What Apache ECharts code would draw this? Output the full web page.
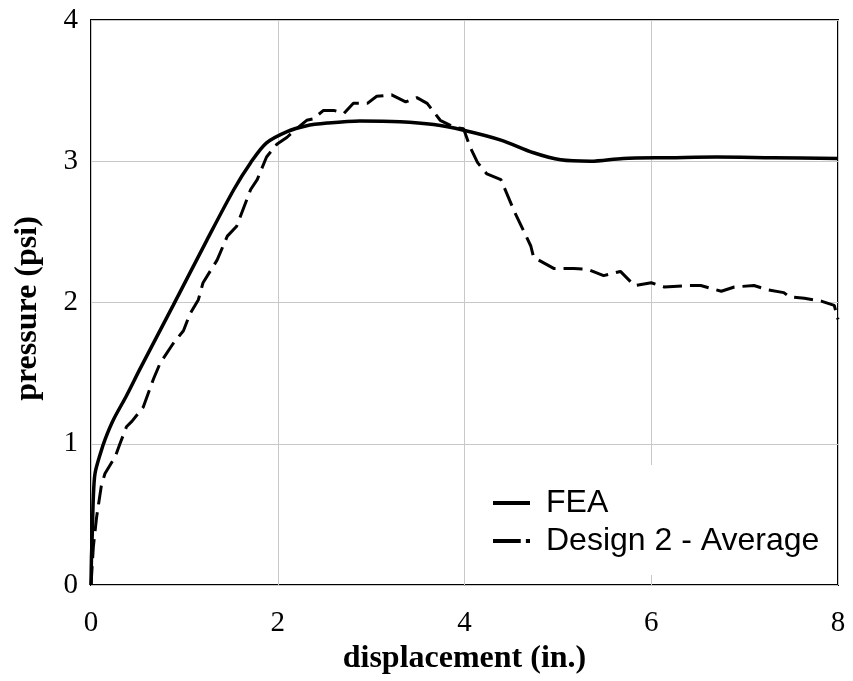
<!DOCTYPE html>
<html>
<head>
<meta charset="utf-8">
<script src="https://cdn.jsdelivr.net/npm/echarts@6/dist/echarts.min.js"></script>
<style>
  html, body { margin: 0; padding: 0; background: #fff; }
  #chart { width: 853px; height: 681px; }
</style>
</head>
<body>
<div id="chart"></div>
<script>
// FEA prediction: displacement (in.) vs pressure (psi)
const feaX = [0, 0.005, 0.014, 0.025, 0.043, 0.1, 0.15, 0.24, 0.38, 0.525, 0.88, 1.24, 1.53, 1.71, 1.88, 2.10, 2.30, 2.53, 2.88, 3.31, 3.67, 3.99, 4.39, 4.74, 5.03, 5.35, 5.7, 6.2, 6.7, 7.3, 8.0];
const feaY = [0, 0.2, 0.37, 0.62, 0.79, 0.93, 1.03, 1.17, 1.34, 1.53, 1.98, 2.44, 2.80, 2.99, 3.13, 3.21, 3.25, 3.27, 3.285, 3.28, 3.26, 3.22, 3.15, 3.06, 3.01, 3.0, 3.02, 3.025, 3.03, 3.025, 3.02];

// Test measurements, averaged
const avgX = [0, 0.025, 0.06, 0.11, 0.15, 0.26, 0.31, 0.38, 0.44, 0.56, 0.67, 0.74, 0.88, 0.99, 1.06, 1.15, 1.20, 1.35, 1.46, 1.56, 1.71, 1.78, 1.88, 1.99, 2.10, 2.2, 2.31, 2.38, 2.49, 2.6, 2.71, 2.81, 2.96, 3.06, 3.22, 3.37, 3.49, 3.6, 3.74, 3.89, 3.99, 4.06, 4.14, 4.24, 4.39, 4.53, 4.71, 4.74, 4.96, 5.17, 5.32, 5.49, 5.67, 5.82, 6.0, 6.14, 6.39, 6.53, 6.75, 6.89, 7.10, 7.25, 7.42, 7.48, 7.64, 7.82, 7.96, 8.0];
const avgY = [0, 0.27, 0.48, 0.70, 0.79, 0.91, 1.0, 1.12, 1.16, 1.26, 1.46, 1.57, 1.71, 1.80, 1.92, 2.02, 2.14, 2.30, 2.47, 2.54, 2.80, 2.87, 3.03, 3.12, 3.17, 3.23, 3.29, 3.30, 3.36, 3.36, 3.34, 3.41, 3.41, 3.46, 3.47, 3.42, 3.45, 3.41, 3.29, 3.24, 3.23, 3.10, 2.99, 2.91, 2.87, 2.65, 2.40, 2.32, 2.24, 2.24, 2.235, 2.19, 2.22, 2.12, 2.14, 2.11, 2.12, 2.12, 2.08, 2.11, 2.12, 2.09, 2.07, 2.04, 2.03, 2.01, 1.98, 1.88];

const seriesNames = ['FEA', 'Design 2 - Average'];
const xTicks = [0, 2, 4, 6, 8];
const yTicks = [0, 1, 2, 3, 4];

const pairs = (xs, ys) => xs.map((x, i) => [x, ys[i]]);

const chart = echarts.init(document.getElementById('chart'), null, { renderer: 'canvas' });

const serif = '"Liberation Serif", "Times New Roman", serif';
const sans = '"Liberation Sans", Arial, sans-serif';

chart.setOption({
  animation: false,
  backgroundColor: '#fff',
  grid: {
    left: 91, right: 15, top: 20, bottom: 96,
    show: true, borderColor: '#000', borderWidth: 2, backgroundColor: 'transparent'
  },
  xAxis: {
    type: 'value',
    min: xTicks[0], max: xTicks[xTicks.length - 1], interval: 2,
    name: 'displacement (in.)',
    nameLocation: 'middle', nameGap: 57,
    nameTextStyle: { fontFamily: serif, fontWeight: 'bold', fontSize: 32, color: '#000' },
    axisLine: { show: false },
    axisTick: { show: false },
    axisLabel: { fontFamily: serif, fontSize: 29, color: '#000', margin: 24 },
    splitLine: { show: true, lineStyle: { color: '#c8c8c8', width: 1 } }
  },
  yAxis: {
    type: 'value',
    min: yTicks[0], max: yTicks[yTicks.length - 1], interval: 1,
    name: 'pressure (psi)',
    nameLocation: 'middle', nameGap: 47,
    nameTextStyle: { fontFamily: serif, fontWeight: 'bold', fontSize: 32, color: '#000', padding: [0, 12, 0, 0] },
    axisLine: { show: false },
    axisTick: { show: false },
    axisLabel: { fontFamily: serif, fontSize: 29, color: '#000', margin: 13 },
    splitLine: { show: true, lineStyle: { color: '#c8c8c8', width: 1 } }
  },
  legend: {
    orient: 'vertical',
    left: 481, top: 465,
    padding: [22, 12, 18, 12],
    backgroundColor: '#fff',
    itemWidth: 37, itemHeight: 4, itemGap: 6,
    symbolKeepAspect: false,
    textStyle: { fontFamily: sans, fontSize: 32, color: '#000', padding: [0, 0, 0, 11] },
    data: [
      { name: seriesNames[0], icon: 'rect' },
      { name: seriesNames[1], icon: 'path://M0,0H27V3H0Z M32,0H36V3H32Z' }
    ]
  },
  series: [
    {
      name: seriesNames[0],
      type: 'line',
      data: pairs(feaX, feaY),
      smooth: 0.3,
      showSymbol: false,
      itemStyle: { color: '#000' },
      lineStyle: { color: '#000', width: 3.5 },
      z: 3
    },
    {
      name: seriesNames[1],
      type: 'line',
      data: pairs(avgX, avgY),
      showSymbol: false,
      itemStyle: { color: '#000' },
      lineStyle: { color: '#000', width: 3, type: [19, 8] },
      z: 2
    }
  ]
});
</script>
</body>
</html>
